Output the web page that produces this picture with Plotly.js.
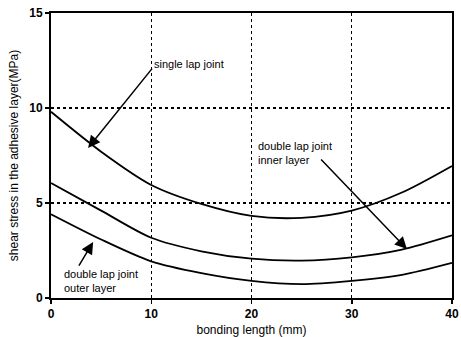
<!DOCTYPE html>
<html>
<head>
<meta charset="utf-8">
<script src="https://cdn.plot.ly/plotly-3.0.1.min.js"></script>
<style>html,body{margin:0;padding:0;background:#fff;}#chart{width:461px;height:337px;}</style>
</head>
<body>
<div id="chart"></div>
<script>
// bonding length (mm)
const bondingLength = [0, 5, 10, 15, 20, 25, 30, 35, 40];
// shear stress (MPa)
const singleLap = [9.8, 7.7, 5.95, 4.95, 4.32, 4.22, 4.6, 5.55, 6.95];
const doubleInner = [6.05, 4.6, 3.17, 2.46, 2.07, 1.97, 2.14, 2.55, 3.3];
const doubleOuter = [4.41, 3.08, 1.93, 1.31, 0.9, 0.73, 0.9, 1.22, 1.85];
const xTicks = [0, 10, 20, 30, 40];
const yTicks = [0, 5, 10, 15];

const font = "Liberation Sans, Arial, sans-serif";
const mk = (y) => ({
  x: bondingLength, y: y, type: 'scatter', mode: 'lines',
  line: {color: '#000', width: 1.8, shape: 'spline', smoothing: 0.8},
  showlegend: false, hoverinfo: 'skip'
});
const data = [mk(singleLap), mk(doubleInner), mk(doubleOuter)];

const arrow = (x, y, ax, ay) => ({
  x: x, y: y, ax: ax, ay: ay, xref: 'x', yref: 'y', axref: 'x', ayref: 'y',
  text: '', showarrow: true, arrowhead: 2, arrowsize: 1.6, arrowwidth: 1.5,
  arrowcolor: '#000', standoff: 0, startstandoff: 0
});
const label = (x, y, text) => ({
  x: x, y: y, xref: 'x', yref: 'y', text: text, showarrow: false,
  xanchor: 'left', yanchor: 'middle', align: 'left',
  font: {family: font, size: 11, color: '#000'}
});

const layout = {
  width: 461, height: 337,
  margin: {l: 51, r: 9, t: 13, b: 39},
  paper_bgcolor: '#fff', plot_bgcolor: '#fff',
  xaxis: {
    range: [0, 40], tickvals: xTicks, ticktext: xTicks.map(String),
    showline: true, linecolor: '#000', linewidth: 2, mirror: true,
    showgrid: true, gridcolor: '#000', gridwidth: 1.3, griddash: 'dot',
    ticks: 'outside', ticklen: 4, tickcolor: '#000', tickwidth: 1.5,
    zeroline: false,
    tickfont: {family: font, size: 12, color: '#000', weight: 'bold'},
    title: {text: 'bonding length (mm)', font: {family: font, size: 12, color: '#000'}, standoff: 6}
  },
  yaxis: {
    range: [0, 15], tickvals: yTicks, ticktext: yTicks.map(String),
    showline: true, linecolor: '#000', linewidth: 2, mirror: true,
    showgrid: true, gridcolor: '#000', gridwidth: 1.3, griddash: 'dot',
    ticks: 'outside', ticklen: 4, tickcolor: '#000', tickwidth: 1.5,
    zeroline: false,
    tickfont: {family: font, size: 12, color: '#000', weight: 'bold'},
    title: {text: 'shear stress in the adhesive layer(MPa)', font: {family: font, size: 12, color: '#000'}, standoff: 8}
  },
  annotations: [
    arrow(3.7, 7.9, 10.2, 12.15),
    arrow(35.5, 2.58, 26.8, 7.37),
    arrow(4.2, 2.95, 2.7, 1.63),
    label(10.1, 12.3, 'single lap joint'),
    label(20.4, 7.65, 'double lap joint<br>inner layer'),
    label(1.1, 0.9, 'double lap joint<br>outer layer')
  ]
};

Plotly.newPlot('chart', data, layout, {displayModeBar: false, staticPlot: true});
</script>
</body>
</html>
